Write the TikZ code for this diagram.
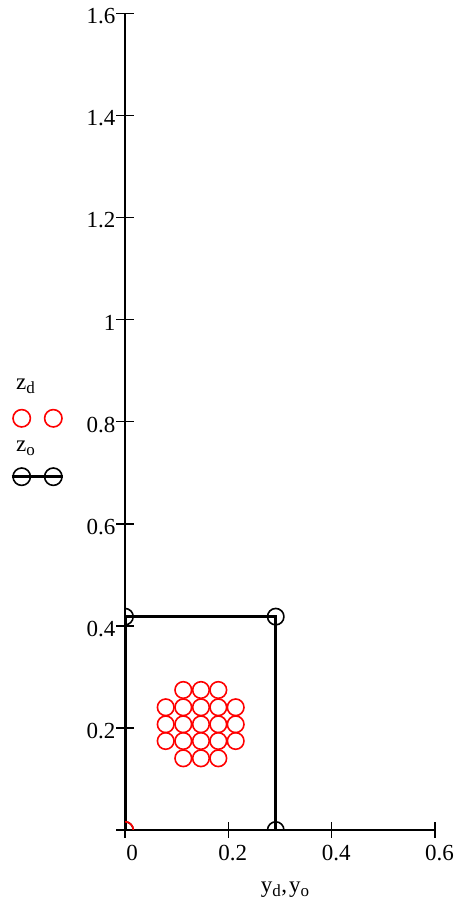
\documentclass[tikz,border=0pt]{standalone}
\usepackage{fontspec}
\setmainfont{Liberation Serif}
\newcommand\mysub[1]{\raisebox{-0.32ex}{\fontsize{17}{17}\selectfont #1}}
\begin{document}
\begin{tikzpicture}[x=1pt,y=1pt,
  every node/.style={font=\fontsize{23}{26}\selectfont, inner sep=0pt},
  axisline/.style={line width=1.6pt, black},
  dmark/.style={circle, draw=red, line width=1.6pt, minimum size=16.6pt, inner sep=0pt},
  omark/.style={circle, draw=black, line width=1.6pt, minimum size=16.4pt, inner sep=0pt},
  opath/.style={line width=3pt, black}]
\useasboundingbox (0,0) rectangle (458,913);
\fill[white] (0,0) rectangle (458,913);
% legend
\node[anchor=base west] (lzd) at (16,523) {z\mysub{d}};
\node[dmark, minimum size=17.4pt] (ld1) at (21.7,494.7) {};
\node[dmark, minimum size=17.4pt] (ld2) at (53.3,494.7) {};
\node[anchor=base west] (lzo) at (16,461.3) {z\mysub{o}};
\coordinate (lol) at (11.7,436.3);
\coordinate (lor) at (63.3,436.3);
\node[omark, minimum size=17.4pt] (lo1) at (21.7,436.3) {};
\node[omark, minimum size=17.4pt] (lo2) at (53.3,436.3) {};
\draw[opath] (lol) -- (lor);
% axis title
\node (xt) at (285,23) {y\mysub{d}\kern0.5pt,\kern2pt y\mysub{o}};
\begin{scope}[shift={(125,83)}, x=516.7pt, y=510.4pt]
  % axes
  \draw[axisline] (0,0) -- (0.6,0);
  \draw[axisline] (0,0) ++(0,-8pt) -- (0,1.6);
  \foreach \v in {0,0.2,...,1.61}
    \draw[axisline] (0,\v) ++(-9pt,0) -- ++(18pt,0);
  \foreach \v in {0.2,0.4,0.6}
    \draw[axisline] (\v,0) ++(0,-8pt) -- ++(0,16pt);
  % tick labels
  \foreach \v/\t [count=\i] in {0.2/0.2,0.4/0.4,0.6/0.6,0.8/0.8,1.0/1,1.2/1.2,1.4/1.4,1.6/1.6}
    \node[anchor=east] (yl\i) at ([xshift=-9.5pt,yshift=-3pt]0,\v) {\t};
  \node[anchor=north] (xl0) at ([xshift=7pt,yshift=-15pt]0,0) {0};
  \foreach \v/\t [count=\i] in {0.2/0.2,0.4/0.4,0.6/0.6}
    \node[anchor=north] (xl\i) at ([xshift=4.5pt,yshift=-15pt]\v,0) {\t};
  % data
  \begin{scope}
    \clip (0,0) rectangle (0.6,1.6);
    \node[omark] (o0) at (0,0) {};
    \node[omark] (o1) at (0,0.418) {};
    \node[omark] (o2) at (0.2917,0.418) {};
    \node[omark] (o3) at (0.2917,0) {};
    \draw[opath] (o0.center) -- (o1.center) -- (o2.center) -- (o3.center);
    \node[dmark] (d0) at (0,0) {};
    \foreach \cx/\cy [count=\i] in {
      0.1128/0.2743,0.147/0.2743,0.1806/0.2743,
      0.0788/0.2404,0.1128/0.2404,0.147/0.2404,0.1806/0.2404,0.2142/0.2404,
      0.0788/0.2071,0.1128/0.2071,0.147/0.2071,0.1806/0.2071,0.2142/0.2071,
      0.0788/0.1744,0.1128/0.1744,0.147/0.1744,0.1806/0.1744,0.2142/0.1744,
      0.1128/0.1405,0.147/0.1405,0.1806/0.1405}
      \node[dmark] (d\i) at (\cx,\cy) {};
  \end{scope}
\end{scope}
\end{tikzpicture}
\end{document}
